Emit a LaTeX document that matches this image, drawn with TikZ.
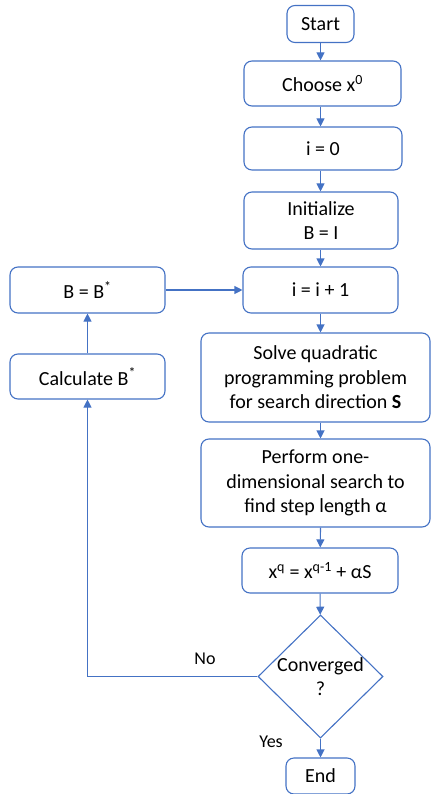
\documentclass[tikz,border=0pt]{standalone}
\usepackage{fontspec}
\setmainfont{Carlito}
\usepackage{tikz}
\usetikzlibrary{positioning,shapes.geometric,arrows.meta}
\usepackage{xcolor}
\definecolor{boxblue}{HTML}{4472C4}

\begin{document}
\begin{tikzpicture}[x=1pt,y=-1pt,
    box/.style={draw=boxblue,line width=1.1pt,rounded corners=8pt,align=center,
      inner sep=2pt,font=\fontsize{20}{24.4}\selectfont},
    decide/.style={draw=boxblue,line width=1.1pt,diamond,align=center,inner sep=-4pt,
      minimum width=125pt,minimum height=123pt,font=\fontsize{20}{24.4}\selectfont},
    flow/.style={draw=boxblue,line width=1.1pt,-{Triangle[length=8pt,width=8pt]}},
    lbl/.style={font=\fontsize{18}{22}\selectfont}]
  \useasboundingbox (0,0) rectangle (431,794);

  \node[box,minimum width=67pt,minimum height=37pt] (start) at (320.5,24) {Start};
  \node[box,minimum width=157pt,minimum height=45pt] (choose) at (322.5,83.5) {Choose x\textsuperscript{0}};
  \node[box,minimum width=158pt,minimum height=43pt] (izero) at (323,148.5) {i = 0};
  \node[box,minimum width=154pt,minimum height=57pt] (init) at (321,220.5) {Initialize\\B = I};
  \node[box,minimum width=155pt,minimum height=46pt] (iinc) at (320.5,290) {i = i + 1};
  \node[box,minimum width=155pt,minimum height=46pt] (bset) at (87.5,290) {B = B\textsuperscript{*}};
  \node[box,minimum width=155pt,minimum height=45pt] (calc) at (87.5,376.5) {Calculate B\textsuperscript{*}};
  \node[box,minimum width=229pt,minimum height=89pt] (solve) at (315.5,377.5)
    {Solve quadratic\\programming problem\\for search direction \textbf{S}};
  \node[box,minimum width=229pt,minimum height=88pt] (perform) at (315.5,483)
    {Perform one-\\dimensional search to\\find step length α};
  \node[box,minimum width=156pt,minimum height=45pt] (xq) at (320,570.5)
    {x\textsuperscript{q} = x\textsuperscript{q-1} + αS};
  \node[decide] (conv) at (320.5,676.5) {Converged\\?};
  \node[box,minimum width=69pt,minimum height=36pt] (stop) at (320.5,776) {End};

  % main line
  \draw[flow] (start) -- (start |- choose.north);
  \draw[flow] (start |- choose.south) -- (start |- izero.north);
  \draw[flow] (start |- izero.south) -- (start |- init.north);
  \draw[flow] (start |- init.south) -- (iinc);
  \draw[flow] (iinc) -- (iinc |- solve.north);
  \draw[flow] (iinc |- solve.south) -- (iinc |- perform.north);
  \draw[flow] (iinc |- perform.south) -- (xq);
  \draw[flow] (xq) -- (conv);
  \draw[flow] (conv) -- (stop);

  % update loop
  \draw[flow] (conv.west) -| (calc.south);
  \draw[flow] (calc) -- (bset);
  \draw[flow] (bset) -- (iinc);

  \node[lbl] (no) at (205,659) {No};
  \node[lbl] (yes) at (271,742) {Yes};
\end{tikzpicture}
\end{document}
